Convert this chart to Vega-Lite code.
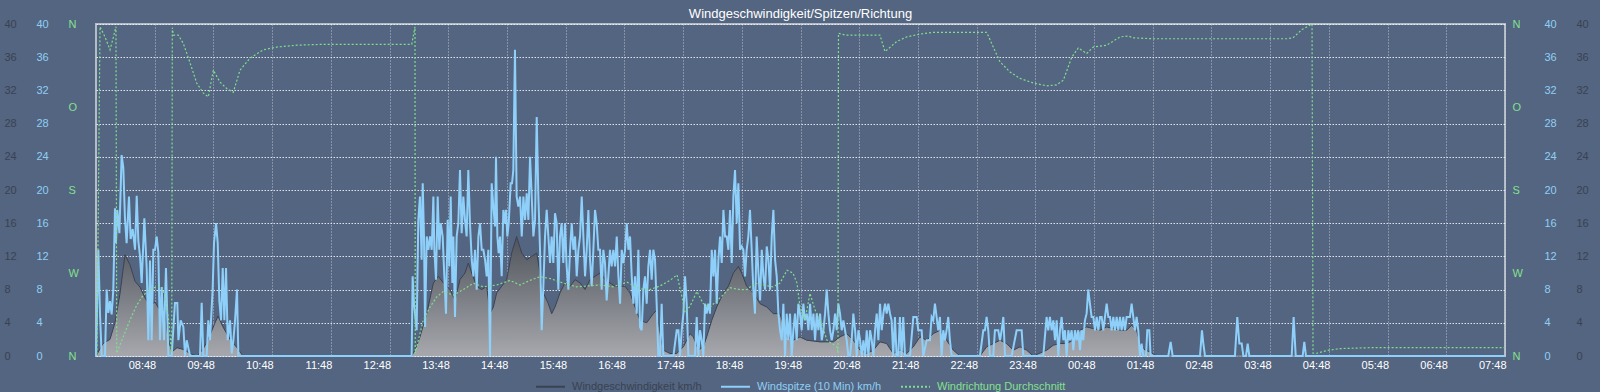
{
  "$schema": "https://vega.github.io/schema/vega-lite/v6.json",
  "width": 1409,
  "height": 332,
  "autosize": {"type": "none"},
  "padding": {"left": 96, "top": 24, "right": 95, "bottom": 36},
  "background": "#536580",
  "title": {"text": "Windgeschwindigkeit/Spitzen/Richtung", "color": "#ffffff", "fontSize": 13, "fontWeight": "normal", "font": "Liberation Sans", "anchor": "middle", "frame": "group", "offset": -3},
  "datasets": {
    "speed": [
      {"m":0,"v":0},{"m":7.2,"v":1.5},{"m":14.3,"v":2},{"m":19.4,"v":4},{"m":24.5,"v":7.5},{"m":29.6,"v":12.2},{"m":34.7,"v":11},{"m":39.9,"v":9},{"m":45,"v":8.3},{"m":50.1,"v":7},{"m":55.2,"v":6},{"m":60.3,"v":6.5},{"m":65.4,"v":5.5},{"m":70.5,"v":5.5},{"m":73.6,"v":2},{"m":77.7,"v":0.5},{"m":82.8,"v":1},{"m":88.9,"v":0.8},{"m":96.1,"v":0.3},{"m":103.2,"v":0},{"m":109.4,"v":0.8},{"m":116.5,"v":2.5},{"m":121.6,"v":4},{"m":124.7,"v":4.8},{"m":129.8,"v":3.5},{"m":137,"v":2},{"m":144.1,"v":1},{"m":150.2,"v":0},
      {"m":322.6,"v":0},{"m":326,"v":0.7},{"m":331.1,"v":2.3},{"m":338,"v":5.1},{"m":344.8,"v":8.8},{"m":349.9,"v":9.6},{"m":355,"v":8.8},{"m":361.8,"v":8},{"m":366.9,"v":6.7},{"m":372,"v":9.2},{"m":377.1,"v":10},{"m":380.5,"v":11.2},{"m":384,"v":10},{"m":389.1,"v":8.4},{"m":394.2,"v":8},{"m":399.3,"v":8.4},{"m":402.7,"v":5.1},{"m":406.1,"v":5.9},{"m":409.5,"v":7.6},{"m":414.6,"v":8.4},{"m":419.7,"v":9.2},{"m":424.8,"v":12.4},{"m":429.9,"v":14.4},{"m":435.1,"v":12.4},{"m":440.2,"v":11.6},{"m":445.3,"v":12},{"m":450.4,"v":12.4},{"m":453.8,"v":10},{"m":457.2,"v":7.6},{"m":462.3,"v":6.3},{"m":465.7,"v":5.1},{"m":469.1,"v":5.9},{"m":474.2,"v":7.6},{"m":479.3,"v":8.8},{"m":484.5,"v":8.4},{"m":489.6,"v":9.2},{"m":494.7,"v":8.8},{"m":499.8,"v":8},{"m":504.9,"v":9.2},{"m":510,"v":9.6},{"m":515.1,"v":10},{"m":520.2,"v":9.2},{"m":525.3,"v":8.8},{"m":530.5,"v":8.4},{"m":535.6,"v":8.4},{"m":540.7,"v":8.4},{"m":545.8,"v":7.6},{"m":550.9,"v":5.9},{"m":556,"v":4.3},{"m":562.8,"v":4},{"m":569.6,"v":5.1},{"m":573,"v":5.5},{"m":576.4,"v":2.7},{"m":579.8,"v":0.7},{"m":586.7,"v":0.3},{"m":593.5,"v":0.3},{"m":600.3,"v":1.1},{"m":607.1,"v":2.7},{"m":610.5,"v":2.3},{"m":615.6,"v":0.7},{"m":620.7,"v":1.1},{"m":624.1,"v":2.3},{"m":629.3,"v":4.3},{"m":634.4,"v":5.9},{"m":641.2,"v":7.6},{"m":646.3,"v":8.4},{"m":651.4,"v":10},{"m":656.5,"v":10.8},{"m":659.9,"v":10},{"m":665,"v":8.4},{"m":671.8,"v":7.6},{"m":678.7,"v":6.3},{"m":685.5,"v":5.9},{"m":692.3,"v":5.1},{"m":699.1,"v":5.1},{"m":705.9,"v":2.3},{"m":712.7,"v":1.9},{"m":719.5,"v":2.3},{"m":726.4,"v":1.9},{"m":740,"v":1.7},{"m":753.6,"v":1.7},{"m":760.4,"v":2.3},{"m":767.2,"v":2.7},{"m":774,"v":1.9},{"m":780.9,"v":0.7},{"m":787.7,"v":0.3},{"m":794.5,"v":0.7},{"m":801.3,"v":1.7},{"m":808,"v":1.5},{"m":814.8,"v":0.3},{"m":821.6,"v":0.7},{"m":828.5,"v":0.3},{"m":835.3,"v":1.1},{"m":842.1,"v":2.3},{"m":848.9,"v":1.9},{"m":855.7,"v":2.7},{"m":862.5,"v":3.1},{"m":869.3,"v":1.9},{"m":876.2,"v":0.7},{"m":883,"v":0},{"m":903.4,"v":0},{"m":910.2,"v":1.1},{"m":917,"v":1.5},{"m":923.9,"v":1.9},{"m":930.7,"v":1.5},{"m":937.5,"v":0.7},{"m":944.3,"v":1.1},{"m":951.1,"v":0.7},{"m":957.9,"v":0},{"m":971.6,"v":0.7},{"m":978.4,"v":1.3},{"m":985.2,"v":1.5},{"m":992,"v":1.5},{"m":998.8,"v":1.9},{"m":1005.6,"v":3.1},{"m":1012.4,"v":3.5},{"m":1019.2,"v":3.3},{"m":1026.1,"v":3.1},{"m":1032.9,"v":3.5},{"m":1039.7,"v":3.3},{"m":1046.5,"v":3.1},{"m":1053.3,"v":3.1},{"m":1058.4,"v":3.7},{"m":1063.5,"v":3.1},{"m":1066.9,"v":1.5},{"m":1072.1,"v":0.7},{"m":1077.2,"v":0.5},{"m":1084,"v":0},{"m":1440,"v":0}
    ],
    "gust": [
      {"m":0,"v":0},{"m":2.4,"v":12.8},{"m":4.1,"v":5},{"m":5.8,"v":0},{"m":9.2,"v":0},{"m":10.9,"v":8},{"m":12.6,"v":5.2},{"m":14.3,"v":6.6},{"m":16,"v":5},{"m":17.7,"v":8},{"m":19.4,"v":17.8},{"m":20.4,"v":13.6},{"m":21.8,"v":17.6},{"m":23.9,"v":14.8},{"m":26.2,"v":24.2},{"m":27.9,"v":22.7},{"m":29.6,"v":16.6},{"m":31.3,"v":13.6},{"m":33.7,"v":19.2},{"m":35.4,"v":14.1},{"m":37.5,"v":15.3},{"m":39.9,"v":12.8},{"m":41.6,"v":19.3},{"m":43.3,"v":13.8},{"m":45,"v":12},{"m":46.7,"v":8.8},{"m":49.4,"v":16.6},{"m":51.8,"v":10.6},{"m":53.5,"v":1.9},{"m":55.2,"v":11.5},{"m":56.9,"v":1.9},{"m":58.6,"v":12.8},{"m":60.3,"v":12.8},{"m":62,"v":14.4},{"m":63.7,"v":12.5},{"m":65.4,"v":1.9},{"m":67.1,"v":8.3},{"m":69.5,"v":1.9},{"m":71.5,"v":10.6},{"m":74,"v":0},{"m":77.3,"v":0},{"m":80.7,"v":6.4},{"m":83.1,"v":6.4},{"m":84.2,"v":1.9},{"m":86.5,"v":4.3},{"m":89.3,"v":3.5},{"m":91,"v":0},{"m":92.7,"v":1.9},{"m":96.1,"v":0},{"m":106.3,"v":0},{"m":108,"v":6.4},{"m":109.7,"v":0},{"m":113.1,"v":0},{"m":114.8,"v":4.3},{"m":116.5,"v":1.9},{"m":119.2,"v":8},{"m":120.6,"v":13.6},{"m":122.7,"v":16},{"m":124.4,"v":13.6},{"m":126.1,"v":6.6},{"m":127.8,"v":4.3},{"m":129.5,"v":10.6},{"m":131.2,"v":4.3},{"m":132.9,"v":10.6},{"m":134.6,"v":1.9},{"m":137,"v":4.3},{"m":138.7,"v":0.3},{"m":140.4,"v":1.9},{"m":142.1,"v":4.3},{"m":144.1,"v":8},{"m":145.5,"v":0},
      {"m":322.6,"v":0},{"m":323.6,"v":9.6},{"m":325,"v":6.3},{"m":327.7,"v":3.1},{"m":329.4,"v":16.4},{"m":331.1,"v":19.2},{"m":332.8,"v":11.6},{"m":333.9,"v":20.8},{"m":335.2,"v":14.4},{"m":336.3,"v":3.5},{"m":338,"v":14.4},{"m":339.7,"v":12.8},{"m":341.4,"v":14.4},{"m":343.1,"v":12.8},{"m":344.8,"v":19.2},{"m":345.8,"v":12.8},{"m":347.5,"v":9.2},{"m":349.2,"v":19.2},{"m":350.9,"v":12.8},{"m":352.3,"v":16},{"m":354.3,"v":14.4},{"m":356,"v":9.6},{"m":357.7,"v":5.1},{"m":359.4,"v":16.4},{"m":361.1,"v":10.8},{"m":362.5,"v":19.2},{"m":364.2,"v":8.8},{"m":365.2,"v":14.4},{"m":366.9,"v":4.7},{"m":368.6,"v":14.4},{"m":370.3,"v":16},{"m":372,"v":22.4},{"m":373.7,"v":14.8},{"m":375.4,"v":19.2},{"m":377.1,"v":16.4},{"m":378.8,"v":14.4},{"m":380.5,"v":22.4},{"m":382.2,"v":16},{"m":384,"v":11.6},{"m":385.7,"v":9.6},{"m":387.4,"v":12.8},{"m":389.1,"v":8},{"m":390.8,"v":14.4},{"m":392.5,"v":16},{"m":394.2,"v":12.8},{"m":395.9,"v":12.8},{"m":397.6,"v":11.6},{"m":399.3,"v":9.6},{"m":401,"v":12.8},{"m":402.7,"v":0},{"m":404.4,"v":20.8},{"m":406.1,"v":18},{"m":407.8,"v":15.6},{"m":408.8,"v":24},{"m":410.2,"v":14.4},{"m":411.5,"v":12.4},{"m":412.9,"v":14.4},{"m":414.6,"v":9.6},{"m":416.3,"v":17.6},{"m":418,"v":16},{"m":419,"v":17.6},{"m":420.4,"v":14.4},{"m":421.8,"v":16},{"m":423.8,"v":20.8},{"m":425.2,"v":20.8},{"m":426.5,"v":22.4},{"m":428.2,"v":36.9},{"m":429.9,"v":19.2},{"m":431.6,"v":18},{"m":433.4,"v":19.2},{"m":435.1,"v":14.4},{"m":436.8,"v":19.2},{"m":438.5,"v":16.4},{"m":440.2,"v":19.6},{"m":441.9,"v":16.4},{"m":443.6,"v":24},{"m":445.3,"v":19.2},{"m":447,"v":14.4},{"m":448.7,"v":16.4},{"m":450.4,"v":28.8},{"m":452.1,"v":19.2},{"m":453.8,"v":12.8},{"m":455.5,"v":3.1},{"m":457.2,"v":8.4},{"m":458.9,"v":14.4},{"m":460.6,"v":17.6},{"m":462.3,"v":14.4},{"m":464,"v":11.2},{"m":465.7,"v":14.4},{"m":467.4,"v":11.2},{"m":469.1,"v":17.2},{"m":470.8,"v":16},{"m":472.5,"v":8},{"m":474.2,"v":14.4},{"m":475.9,"v":16},{"m":477.6,"v":11.2},{"m":479.3,"v":16},{"m":481,"v":10.8},{"m":482.8,"v":8},{"m":484.5,"v":12.8},{"m":486.2,"v":16},{"m":487.9,"v":12.8},{"m":489.6,"v":14.4},{"m":491.3,"v":9.6},{"m":493,"v":12.8},{"m":494.7,"v":14.4},{"m":496.4,"v":19.2},{"m":498.1,"v":14.4},{"m":499.8,"v":9.6},{"m":501.5,"v":12.8},{"m":503.2,"v":17.6},{"m":504.9,"v":11.6},{"m":506.6,"v":8.4},{"m":508.3,"v":12.8},{"m":510,"v":17.6},{"m":511.7,"v":16},{"m":513.4,"v":12.8},{"m":515.1,"v":12.8},{"m":516.8,"v":8},{"m":518.5,"v":12.8},{"m":520.2,"v":11.2},{"m":521.9,"v":6.7},{"m":523.6,"v":9.6},{"m":525.3,"v":12.8},{"m":527,"v":10.8},{"m":528.7,"v":12.8},{"m":530.5,"v":10.8},{"m":532.2,"v":14.4},{"m":533.9,"v":9.6},{"m":535.6,"v":6.3},{"m":537.3,"v":12.8},{"m":539,"v":11.2},{"m":540.7,"v":12.8},{"m":542.4,"v":16},{"m":544.1,"v":12.8},{"m":545.8,"v":14.4},{"m":547.5,"v":9.6},{"m":549.2,"v":6.3},{"m":550.9,"v":9.6},{"m":552.6,"v":5.1},{"m":554.3,"v":12.8},{"m":556,"v":3.5},{"m":557.7,"v":3.1},{"m":559.4,"v":8},{"m":561.1,"v":9.6},{"m":562.8,"v":6.3},{"m":564.5,"v":10.8},
      {"m":566.2,"v":12.8},{"m":567.9,"v":9.2},{"m":569.6,"v":12.8},{"m":571.3,"v":11.6},{"m":573,"v":6.3},{"m":574.7,"v":0},{"m":576.4,"v":0},{"m":578.1,"v":6.3},{"m":579.8,"v":0},{"m":590.1,"v":0},{"m":593.5,"v":3.1},{"m":595.2,"v":3.1},{"m":596.9,"v":0},{"m":598.6,"v":3.1},{"m":600.3,"v":5.1},{"m":602,"v":9.6},{"m":603.7,"v":6.3},{"m":605.4,"v":0},{"m":612.2,"v":0},{"m":613.9,"v":4.7},{"m":615.6,"v":0},{"m":617.3,"v":3.1},{"m":619,"v":1.9},{"m":620.7,"v":0},{"m":622.4,"v":6.3},{"m":624.1,"v":5.1},{"m":625.8,"v":6.3},{"m":627.5,"v":5.1},{"m":629.3,"v":12.8},{"m":631,"v":9.6},{"m":632.7,"v":12.8},{"m":634.4,"v":6.3},{"m":636.1,"v":11.6},{"m":637.8,"v":14.4},{"m":639.5,"v":11.2},{"m":641.2,"v":17.6},{"m":642.9,"v":14.4},{"m":644.6,"v":14.4},{"m":646.3,"v":12.8},{"m":648,"v":17.6},{"m":649.7,"v":11.2},{"m":651.4,"v":19.2},{"m":653.1,"v":22.4},{"m":654.8,"v":16},{"m":656.5,"v":20.8},{"m":658.2,"v":12.8},{"m":659.9,"v":13.2},{"m":661.6,"v":12.8},{"m":663.3,"v":9.6},{"m":665,"v":12.8},{"m":666.7,"v":14.4},{"m":668.4,"v":17.6},{"m":670.1,"v":12.8},{"m":671.8,"v":8},{"m":673.5,"v":5.1},{"m":675.2,"v":14.4},{"m":677,"v":10},{"m":678.7,"v":6.7},{"m":680.4,"v":12.8},{"m":682.1,"v":9.6},{"m":683.8,"v":8},{"m":685.5,"v":13.2},{"m":687.2,"v":11.6},{"m":688.9,"v":8},{"m":690.6,"v":14.4},{"m":692.3,"v":17.6},{"m":694,"v":11.6},{"m":695.7,"v":9.6},{"m":697.4,"v":5.1},{"m":699.1,"v":3.1},{"m":700.8,"v":1.9},{"m":702.5,"v":6.3},{"m":704.2,"v":0},{"m":705.9,"v":5.1},{"m":707.6,"v":1.9},{"m":709.3,"v":5.1},{"m":711,"v":0},{"m":712.7,"v":3.1},{"m":714.4,"v":5.1},{"m":716.1,"v":1.9},{"m":717.8,"v":6.3},{"m":719.5,"v":5.1},{"m":721.2,"v":3.1},{"m":722.9,"v":6.3},{"m":724.6,"v":4.3},{"m":726.4,"v":5.1},{"m":728.1,"v":3.1},{"m":729.8,"v":6.3},{"m":731.5,"v":3.1},{"m":733.2,"v":5.1},{"m":734.9,"v":1.9},{"m":736.6,"v":5.1},{"m":738.3,"v":3.1},{"m":740,"v":5.1},{"m":741.7,"v":1.9},{"m":743.4,"v":3.1},{"m":745.1,"v":5.1},{"m":746.8,"v":8},{"m":748.5,"v":5.1},{"m":750.2,"v":3.1},{"m":751.9,"v":1.9},{"m":753.6,"v":3.1},{"m":755.3,"v":5.1},{"m":757,"v":3.1},{"m":758.7,"v":6.3},{"m":760.4,"v":5.1},{"m":762.1,"v":3.1},{"m":763.8,"v":4.3},{"m":765.5,"v":3.1},{"m":767.2,"v":1.9},{"m":768.9,"v":0},{"m":770.6,"v":0},{"m":772.3,"v":1.9},{"m":774,"v":5.1},{"m":775.8,"v":3.1},{"m":777.5,"v":0},{"m":779.2,"v":3.1},{"m":780.9,"v":1.9},{"m":782.6,"v":0},{"m":784.3,"v":1.9},{"m":786,"v":0},{"m":787.7,"v":3.1},{"m":789.4,"v":0},{"m":791.1,"v":3.1},{"m":792.8,"v":1.9},{"m":794.5,"v":0},{"m":796.2,"v":3.1},{"m":797.9,"v":5.1},{"m":799.6,"v":1.9},{"m":801.3,"v":6.3},{"m":803,"v":3.1},{"m":804.7,"v":5.1},{"m":806.4,"v":6.3},{"m":808.1,"v":5.1},{"m":809.8,"v":6.3},{"m":811.5,"v":5.1},
      {"m":813.1,"v":4.3},{"m":814.8,"v":0},{"m":816.5,"v":4.7},{"m":818.2,"v":0},{"m":819.9,"v":0},{"m":821.6,"v":4.7},{"m":823.3,"v":0},{"m":825,"v":4.7},{"m":826.8,"v":0},{"m":831.9,"v":0},{"m":835.3,"v":4.7},{"m":838.7,"v":4.7},{"m":840.4,"v":3.1},{"m":843.8,"v":3.1},{"m":845.5,"v":0},{"m":848.9,"v":1.9},{"m":852.3,"v":1.9},{"m":854,"v":4.7},{"m":855.7,"v":4.3},{"m":857.4,"v":6.3},{"m":859.1,"v":4.7},{"m":860.8,"v":3.1},{"m":862.5,"v":4.7},{"m":864.2,"v":0},{"m":865.9,"v":3.1},{"m":867.6,"v":1.9},{"m":869.3,"v":3.1},{"m":871,"v":4.7},{"m":872.7,"v":1.9},{"m":874.5,"v":0},{"m":903.4,"v":0},{"m":906.8,"v":3.1},{"m":908.5,"v":3.1},{"m":910.2,"v":4.7},{"m":911.9,"v":3.1},{"m":913.6,"v":0},{"m":917,"v":0},{"m":918.7,"v":3.1},{"m":922.1,"v":3.1},{"m":923.9,"v":1.9},{"m":925.6,"v":3.1},{"m":927.3,"v":4.7},{"m":929,"v":0},{"m":935.8,"v":0},{"m":940.9,"v":3.1},{"m":946,"v":3.1},{"m":947.7,"v":0},{"m":968.1,"v":0},{"m":971.5,"v":4.7},{"m":973.2,"v":3.1},{"m":974.9,"v":4.7},{"m":976.7,"v":3.1},{"m":978.4,"v":4.3},{"m":980.1,"v":1.9},{"m":981.8,"v":4.3},{"m":983.5,"v":0},{"m":985.2,"v":3.1},{"m":986.9,"v":4.7},{"m":988.6,"v":1.9},{"m":990.3,"v":3.1},{"m":992,"v":0},{"m":993.7,"v":3.1},{"m":995.4,"v":1.9},{"m":997.1,"v":3.1},{"m":998.8,"v":0.7},{"m":1000.5,"v":3.1},{"m":1002.2,"v":1.9},{"m":1003.9,"v":3.1},{"m":1005.6,"v":0.7},{"m":1007.3,"v":3.1},{"m":1009,"v":1.9},{"m":1010.7,"v":4.3},{"m":1012.4,"v":5.1},{"m":1014.1,"v":8},{"m":1015.8,"v":6.3},{"m":1017.5,"v":4.7},{"m":1019.2,"v":4.7},{"m":1021,"v":3.1},{"m":1022.7,"v":4.7},{"m":1024.4,"v":3.1},{"m":1026.1,"v":4.7},{"m":1027.8,"v":4.7},{"m":1029.5,"v":3.1},{"m":1031.2,"v":4.7},{"m":1032.9,"v":6.3},{"m":1034.6,"v":4.7},{"m":1036.3,"v":4.7},{"m":1038,"v":3.1},{"m":1039.7,"v":4.7},{"m":1041.4,"v":3.1},{"m":1043.1,"v":4.7},{"m":1044.8,"v":3.1},{"m":1046.5,"v":4.7},{"m":1048.2,"v":3.1},{"m":1049.9,"v":4.7},{"m":1051.6,"v":3.1},{"m":1053.3,"v":4.7},{"m":1055,"v":4.7},{"m":1056.7,"v":4.7},
      {"m":1058.4,"v":6.3},{"m":1060.1,"v":4.7},{"m":1061.8,"v":3.1},{"m":1063.5,"v":4.7},{"m":1065.2,"v":3.1},{"m":1066.9,"v":0},{"m":1068.6,"v":1.5},{"m":1070.3,"v":0},{"m":1073.1,"v":0},{"m":1074.4,"v":3.1},{"m":1076.5,"v":3.1},{"m":1077.8,"v":0},{"m":1095.9,"v":0},{"m":1098.3,"v":1.7},{"m":1100.3,"v":0},{"m":1128.3,"v":0},{"m":1130.3,"v":3.1},{"m":1131.7,"v":1.5},{"m":1133.4,"v":0},{"m":1164,"v":0},{"m":1166.4,"v":4.7},{"m":1168.5,"v":1.5},{"m":1170.9,"v":1.5},{"m":1172.6,"v":0},{"m":1175.3,"v":0},{"m":1177,"v":1.5},{"m":1178.7,"v":0},{"m":1222,"v":0},{"m":1224,"v":4.7},{"m":1226.1,"v":0},{"m":1233.2,"v":0},{"m":1234.9,"v":1.7},{"m":1236.6,"v":0},{"m":1440,"v":0}
    ],
    "dir": [
      {"m":0,"v":357},{"m":1,"v":357},{"m":4.1,"v":3},{"m":9.2,"v":14},{"m":14.3,"v":28},{"m":17.1,"v":17},{"m":20.4,"v":3},{"m":21.2,"v":357},{"m":27.9,"v":339},{"m":34.7,"v":321},{"m":41.6,"v":305},{"m":48.3,"v":294},{"m":58.6,"v":286},{"m":67.1,"v":285},{"m":70.5,"v":295},{"m":73.9,"v":318},{"m":76.7,"v":350},{"m":77.4,"v":357},{"m":78,"v":4},{"m":79,"v":12},{"m":84.1,"v":12},{"m":89.2,"v":21},{"m":96.1,"v":42},{"m":102.9,"v":64},{"m":109.7,"v":75},{"m":114.8,"v":79},{"m":119.9,"v":50},{"m":126.7,"v":63},{"m":133.6,"v":70},{"m":140.3,"v":74},{"m":147.2,"v":50},{"m":157.4,"v":37},{"m":171,"v":28},{"m":184.7,"v":25},{"m":205.1,"v":23},{"m":232.3,"v":22},{"m":322.7,"v":22},{"m":326,"v":3},{"m":326.3,"v":357},{"m":329.4,"v":343},{"m":334.5,"v":321},{"m":341.3,"v":307},{"m":348.2,"v":296},{"m":354.9,"v":290},{"m":365.2,"v":294},{"m":375.4,"v":288},{"m":385.6,"v":281},{"m":395.8,"v":285},{"m":409.5,"v":283},{"m":423.1,"v":278},{"m":433.3,"v":283},{"m":443.5,"v":278},{"m":453.8,"v":274},{"m":464,"v":276},{"m":477.6,"v":281},{"m":491.3,"v":285},{"m":515.1,"v":283},{"m":528.4,"v":285},{"m":542.7,"v":280},{"m":556,"v":287},{"m":566.2,"v":288},{"m":576.4,"v":284},{"m":586.6,"v":278},{"m":593.8,"v":272},{"m":598.9,"v":296},{"m":602,"v":313},{"m":607.1,"v":306},{"m":614.2,"v":290},{"m":620.4,"v":303},{"m":627.5,"v":307},{"m":637.7,"v":297},{"m":648,"v":286},{"m":658.2,"v":288},{"m":665.3,"v":288},{"m":673.5,"v":281},{"m":681.7,"v":283},{"m":691.9,"v":285},{"m":699,"v":281},{"m":706.2,"v":267},{"m":712.3,"v":270},{"m":716.4,"v":281},{"m":719.5,"v":307},{"m":724.6,"v":321},{"m":729.7,"v":292},{"m":734.8,"v":310},{"m":739.9,"v":320},{"m":747.1,"v":343},{"m":757.3,"v":350},{"m":758.3,"v":357},{"m":758.8,"v":10},{"m":765.5,"v":12},{"m":780.8,"v":12},{"m":801.2,"v":12},{"m":806.4,"v":30},{"m":818.3,"v":19},{"m":828.5,"v":14},{"m":842.1,"v":11},{"m":855.7,"v":9},{"m":910.3,"v":9},{"m":917,"v":25},{"m":923.9,"v":41},{"m":934.1,"v":52},{"m":944.3,"v":59},{"m":957.9,"v":64},{"m":971.6,"v":67},{"m":981.8,"v":66},{"m":988.6,"v":61},{"m":997.2,"v":36},{"m":1003.9,"v":26},{"m":1012.5,"v":32},{"m":1019.2,"v":25},{"m":1033,"v":23},{"m":1046.5,"v":14},{"m":1055,"v":13},{"m":1059.8,"v":15},{"m":1080.3,"v":16},{"m":1217.2,"v":16},{"m":1223.3,"v":15},{"m":1232.5,"v":6},{"m":1242.8,"v":0},{"m":1243.8,"v":357},{"m":1247.9,"v":357},{"m":1258.1,"v":354},{"m":1271.4,"v":352},{"m":1302,"v":351},{"m":1440,"v":351}
    ]
  },
  "encoding": {
    "x": {
      "field": "m", "type": "quantitative", "title": null,
      "scale": {"domain": [0, 1440], "nice": false, "zero": false},
      "axis": {
        "values": [60,120,180,240,300,360,420,480,540,600,660,720,780,840,900,960,1020,1080,1140,1200,1260,1320,1380,1440],
        "labelExpr": "timeFormat(datetime(2000,0,1,7,48+datum.value),'%H:%M')",
        "grid": true, "gridDash": [1, 2], "gridColor": "#d5dae2", "gridOpacity": 0.8,
        "labelAlign": "right", "labelBaseline": "top", "labelPadding": 3, "labelOffset": 1,
        "labelColor": "#ffffff", "labelFlush": false, "labelOverlap": false
      }
    }
  },
  "layer": [
    {
      "data": {"name": "speed"},
      "mark": {"type": "area", "interpolate": "linear", "fill": {"gradient": "linear", "x1": 0, "y1": 1, "x2": 0, "y2": 0, "stops": [{"offset": 0, "color": "#a6a8ad"}, {"offset": 1, "color": "#4f535b"}]}},
      "encoding": {
        "y": {"field": "v", "type": "quantitative", "title": null, "scale": {"domain": [0, 40], "nice": false, "zero": false},
          "axis": {"orient": "left", "offset": 92, "labelAlign": "left", "labelColor": "#3a4252", "values": [0,4,8,12,16,20,24,28,32,36,40], "grid": true, "gridDash": [1.5, 1.5], "gridColor": "#eef1f5", "gridOpacity": 0.9}}
      }
    },
    {
      "data": {"name": "speed"},
      "mark": {"type": "line", "strokeWidth": 1, "interpolate": "linear"},
      "encoding": {
        "y": {"field": "v", "type": "quantitative", "title": null, "scale": {"domain": [0, 40], "nice": false, "zero": false},
          "axis": {"orient": "right", "offset": 71, "labelAlign": "left", "labelColor": "#3a4252", "values": [0,4,8,12,16,20,24,28,32,36,40], "grid": false}},
        "color": {
          "datum": "Windgeschwindigkeit km/h",
          "scale": {"domain": ["Windgeschwindigkeit km/h", "Windspitze (10 Min) km/h", "Windrichtung Durchschnitt"], "range": ["#3b4353", "#8fd0fa", "#80dd8f"]},
          "legend": {
            "orient": "none", "legendX": 439, "legendY": 347, "direction": "horizontal", "title": null,
            "symbolType": "stroke", "symbolSize": 841, "symbolStrokeWidth": 2, "gridAlign": "each",
            "labelFontSize": 11, "labelFont": "Liberation Sans", "labelOffset": 6, "columnPadding": 15, "padding": 0, "labelLimit": 300,
            "encode": {
              "symbols": {"update": {"strokeDash": {"signal": "datum.value === 'Windrichtung Durchschnitt' ? [2,2] : [1,0]"}}},
              "labels": {"update": {"fill": {"signal": "datum.value === 'Windgeschwindigkeit km/h' ? '#3a4252' : datum.value === 'Windspitze (10 Min) km/h' ? '#8fcff5' : '#84e08f'"}}}
            }
          }
        }
      }
    },
    {
      "data": {"name": "gust"},
      "mark": {"type": "line", "strokeWidth": 2, "interpolate": "linear"},
      "encoding": {
        "y": {"field": "v", "type": "quantitative", "title": null, "scale": {"domain": [0, 40], "nice": false, "zero": false},
          "axis": {"orient": "left", "offset": 60, "labelAlign": "left", "labelColor": "#8fcff5", "values": [0,4,8,12,16,20,24,28,32,36,40], "grid": false}},
        "color": {"datum": "Windspitze (10 Min) km/h"}
      }
    },
    {
      "data": {"name": "gust"},
      "mark": {"type": "line", "opacity": 0},
      "encoding": {
        "y": {"field": "v", "type": "quantitative", "title": null, "scale": {"domain": [0, 40], "nice": false, "zero": false},
          "axis": {"orient": "right", "offset": 39, "labelAlign": "left", "labelColor": "#8fcff5", "values": [0,4,8,12,16,20,24,28,32,36,40], "grid": false}}
      }
    },
    {
      "data": {"name": "dir"},
      "mark": {"type": "line", "strokeWidth": 1.2, "strokeDash": [2, 2], "interpolate": "linear"},
      "encoding": {
        "y": {"field": "v", "type": "quantitative", "title": null, "scale": {"domain": [0, 360], "reverse": true, "nice": false, "zero": false},
          "axis": {"orient": "left", "offset": 28, "labelAlign": "left", "labelColor": "#84e08f", "values": [0,90,180,270,360], "labelExpr": "datum.value === 90 ? 'O' : datum.value === 180 ? 'S' : datum.value === 270 ? 'W' : 'N'", "grid": false}},
        "color": {"datum": "Windrichtung Durchschnitt"}
      }
    },
    {
      "data": {"name": "dir"},
      "mark": {"type": "line", "opacity": 0},
      "encoding": {
        "y": {"field": "v", "type": "quantitative", "title": null, "scale": {"domain": [0, 360], "reverse": true, "nice": false, "zero": false},
          "axis": {"orient": "right", "offset": 7, "labelAlign": "left", "labelColor": "#84e08f", "values": [0,90,180,270,360], "labelExpr": "datum.value === 90 ? 'O' : datum.value === 180 ? 'S' : datum.value === 270 ? 'W' : 'N'", "grid": false}}
      }
    }
  ],
  "resolve": {"scale": {"y": "independent"}, "axis": {"y": "independent"}},
  "config": {
    "view": {"stroke": "#b4bcc8", "strokeWidth": 2},
    "axis": {"ticks": false, "tickSize": 0, "domain": false, "labelFont": "Liberation Sans", "labelFontSize": 11, "labelPadding": 0},
    "axisY": {"grid": false}
  }
}
